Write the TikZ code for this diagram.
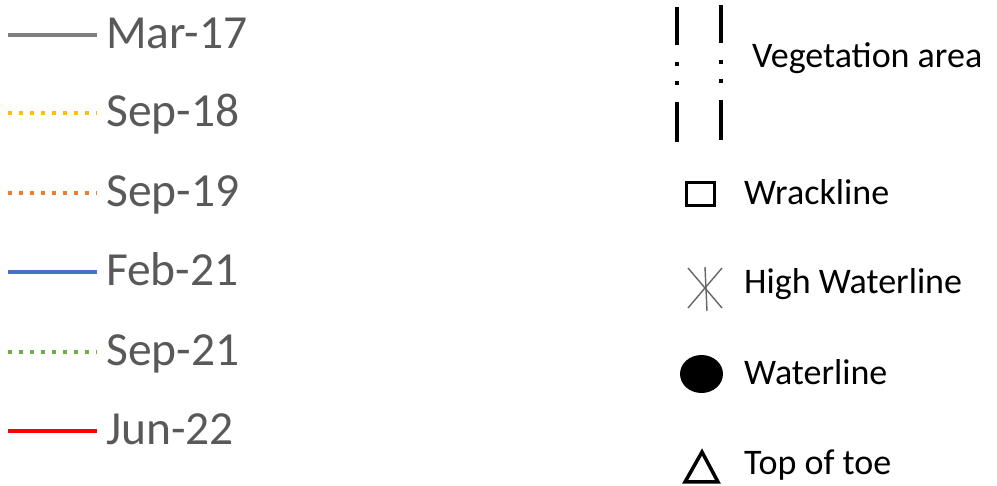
\documentclass[tikz,border=0pt]{standalone}
\usepackage{fontspec}
\setmainfont{Carlito}
\usepackage{xcolor}
\usepackage{tikz}
\usetikzlibrary{positioning}

\definecolor{legGray}{HTML}{7F7F7F}
\definecolor{legGold}{HTML}{FFC000}
\definecolor{legOrange}{HTML}{ED7D31}
\definecolor{legBlue}{HTML}{4472C4}
\definecolor{legGreen}{HTML}{70AD47}
\definecolor{legRed}{HTML}{FF0000}
\definecolor{txtGray}{HTML}{595959}

\begin{document}
\begin{tikzpicture}[
  x=1pt, y=-1pt,
  solidln/.style  = {line width=3.8pt},
  dotln/.style    = {line width=3.5pt, dash pattern=on 3.5pt off 7.5pt},
  datelbl/.style  = {anchor=base west, inner sep=0pt, text=txtGray,
                     font=\fontsize{47.5}{57}\selectfont},
  keylbl/.style   = {anchor=base west, inner sep=0pt, text=black,
                     font=\fontsize{36}{43}\selectfont},
  vegln/.style    = {line width=4pt,
                     dash pattern=on 38pt off 17pt on 4pt off 15pt on 4pt off 17pt on 40pt},
  hwl/.style      = {line width=1.4pt, draw=black!60},
]
\useasboundingbox (0,0) rectangle (997,486);

% survey dates
\coordinate (mar17a) at (8,35);   \coordinate (mar17b) at (97,35);
\coordinate (sep18a) at (8,113);  \coordinate (sep18b) at (97,113);
\coordinate (sep19a) at (8,193);  \coordinate (sep19b) at (97,193);
\coordinate (feb21a) at (8,272);  \coordinate (feb21b) at (97,272);
\coordinate (sep21a) at (8,352);  \coordinate (sep21b) at (97,352);
\coordinate (jun22a) at (8,431);  \coordinate (jun22b) at (97,431);

\draw[solidln, legGray]   (mar17a) -- (mar17b);
\draw[dotln,   legGold]   (sep18a) -- (sep18b);
\draw[dotln,   legOrange] (sep19a) -- (sep19b);
\draw[solidln, legBlue]   (feb21a) -- (feb21b);
\draw[dotln,   legGreen]  (sep21a) -- (sep21b);
\draw[solidln, legRed, line width=4.2pt] (jun22a) -- (jun22b);

\node[datelbl] (mar17) at (106,48.5)  {Mar-17};
\node[datelbl] (sep18) at (106,126.5) {Sep-18};
\node[datelbl] (sep19) at (106,206.5) {Sep-19};
\node[datelbl] (feb21) at (106,285.5) {Feb-21};
\node[datelbl] (sep21) at (106,365.5) {Sep-21};
\node[datelbl] (jun22) at (106,444.5) {Jun-22};

% features
\coordinate (vegLa) at (677,7);  \coordinate (vegLb) at (677,142);
\coordinate (vegRa) at (721,5);  \coordinate (vegRb) at (721,140);
\draw[vegln] (vegLa) -- (vegLb);
\draw[vegln] (vegRa) -- (vegRb);
\node[keylbl] (veg) at (752,68) {Vegetation area};

\draw[line width=3pt] (686,183) rectangle (714,206);
\node[keylbl] (wrack) at (744,205) {Wrackline};

\draw[hwl] (688,268) -- (722,308);
\draw[hwl] (722,268) -- (688,308);
\draw[hwl] (705,267) -- (707,311);
\node[keylbl] (highwl) at (744,294) {High Waterline};

\fill[black] (701.5,374) ellipse [x radius=21.5, y radius=19];
\node[keylbl] (wl) at (744,385) {Waterline};

\draw[line width=3.5pt, line join=miter] (702,452) -- (718,482) -- (685,482) -- cycle;
\node[keylbl] (toe) at (744,475) {Top of toe};
\end{tikzpicture}
\end{document}
